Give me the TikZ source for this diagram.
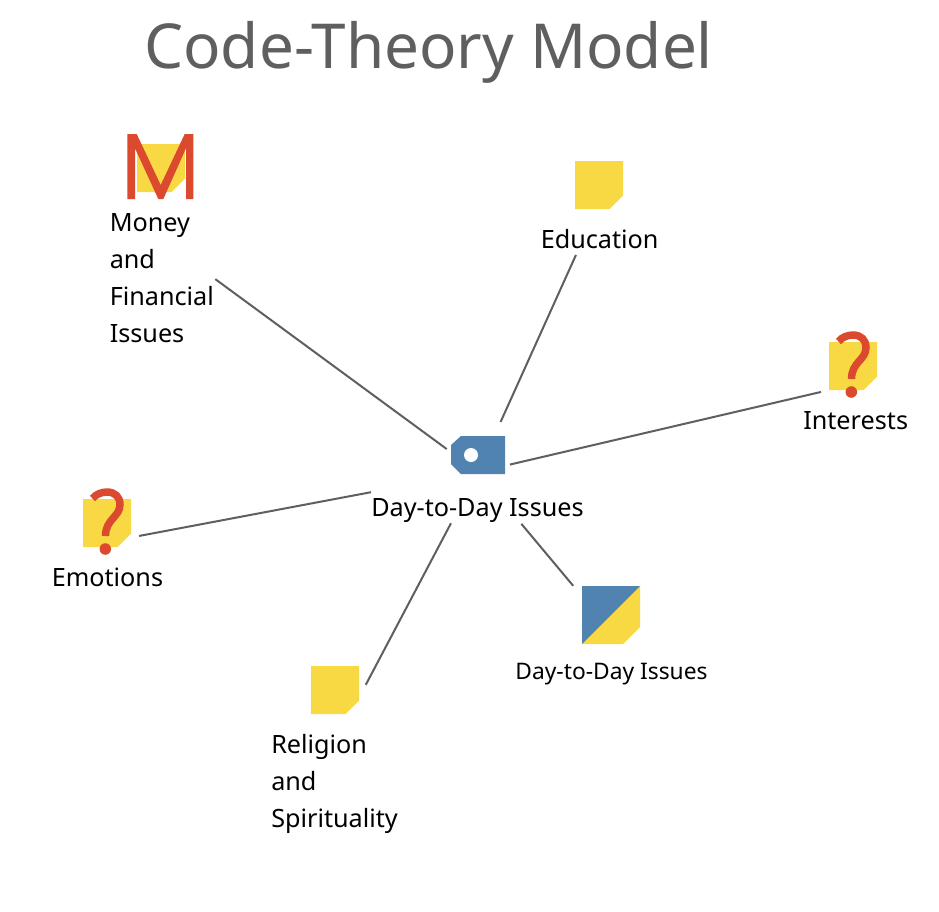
\documentclass[tikz,border=0pt]{standalone}
\usepackage{fontspec}
\setmainfont{Noto Sans}
\definecolor{sticky}{HTML}{F9D943}
\definecolor{tagblue}{HTML}{5083AF}
\definecolor{alarm}{HTML}{DB4A2F}
\definecolor{inkgrey}{HTML}{5F5F5F}
\newcommand{\stickyicon}[2]{\fill[sticky] (#1,#2) -- ++(48,0) -- ++(0,34.5) -- ++(-13.5,13.5) -- ++(-34.5,0) -- cycle;}
\newcommand{\qmarkicon}[2]{\begin{scope}[shift={(#1,#2)}]
\draw[alarm,line width=5.6pt,line cap=butt] (9.5,-0.5) .. controls (13,-5) and (19,-7) .. (24,-7) .. controls (32,-7) and (37,-2) .. (37,5.5) .. controls (37,18) and (22.5,20) .. (22.5,37);
\fill[alarm] (22.3,50) circle (5.8);
\end{scope}}
\tikzset{
  x=0.75pt,y=-0.75pt,
  link/.style={draw=inkgrey,line width=1.5pt},
  lbl/.style={anchor=west,inner sep=0pt,font=\fontsize{18.9pt}{27.75pt}\selectfont,align=left,text=black},
  small/.style={anchor=center,inner sep=0pt,font=\fontsize{17.1pt}{20pt}\selectfont,text=black},
  titlefont/.style={anchor=west,inner sep=0pt,font=\fontsize{46.5pt}{60pt}\selectfont,text=inkgrey},
}
\begin{document}
\begin{tikzpicture}
\useasboundingbox (0,0) rectangle (939,911);
\fill[white] (0,0) rectangle (939,911);
\node[titlefont] (title) at (144,52) {Code-Theory Model};
% group centres
\coordinate (hub) at (478,472);
\coordinate (money) at (162,240);
\coordinate (education) at (598.5,205);
\coordinate (interests) at (852,384.7);
\coordinate (emotions) at (107,542);
\coordinate (religion) at (335.6,742);
\coordinate (daycode) at (611,631);
% connectors
\draw[link,shorten <=29.1pt,shorten >=49.6pt] (hub) -- (money);
\draw[link,shorten <=41.2pt,shorten >=41.1pt] (hub) -- (education);
\draw[link,shorten <=24.6pt,shorten >=23.9pt] (hub) -- (interests);
\draw[link,shorten <=81.7pt,shorten >=24.5pt] (hub) -- (emotions);
\draw[link,shorten <=43.5pt,shorten >=48.5pt] (hub) -- (religion);
\draw[link,shorten <=50.7pt,shorten >=44.2pt] (hub) -- (daycode);
% hub
\fill[tagblue] (461,436) -- (505,436) -- (505,474) -- (461,474) -- (451,464) -- (451,445) -- cycle;
\fill[white] (471,455) circle (7);
\node[lbl] (hublabel) at (371,511) {Day-to-Day Issues};
% money
\stickyicon{137}{144}
\fill[alarm] (127.3,134) -- (136.7,134) -- (160.7,185) -- (184.7,134) -- (193.3,134) -- (193.3,199) -- (186,199) -- (186,148.3) -- (163.3,199) -- (158.3,199) -- (135,148.3) -- (135,199) -- (127.3,199) -- cycle;
\node[lbl] (moneylabel) at (109.5,278.5) {Money\\and\\Financial\\Issues};
% education
\stickyicon{575}{161}
\node[lbl] (educationlabel) at (540.5,239) {Education};
% interests
\stickyicon{829}{342}
\qmarkicon{829}{342}
\node[lbl] (interestslabel) at (803,420.5) {Interests};
% emotions
\stickyicon{83}{499}
\qmarkicon{83}{499}
\node[lbl] (emotionslabel) at (51.5,577) {Emotions};
% religion
\stickyicon{311}{666}
\node[lbl] (religionlabel) at (271,784) {Religion\\and\\Spirituality};
% code-theory icon
\fill[sticky] (640,586) -- (640,627) -- (623,644) -- (582,644) -- cycle;
\fill[tagblue] (582,586) -- (640,586) -- (582,644) -- cycle;
\node[small] (daylabel) at (611.5,674) {Day-to-Day Issues};
\end{tikzpicture}
\end{document}
